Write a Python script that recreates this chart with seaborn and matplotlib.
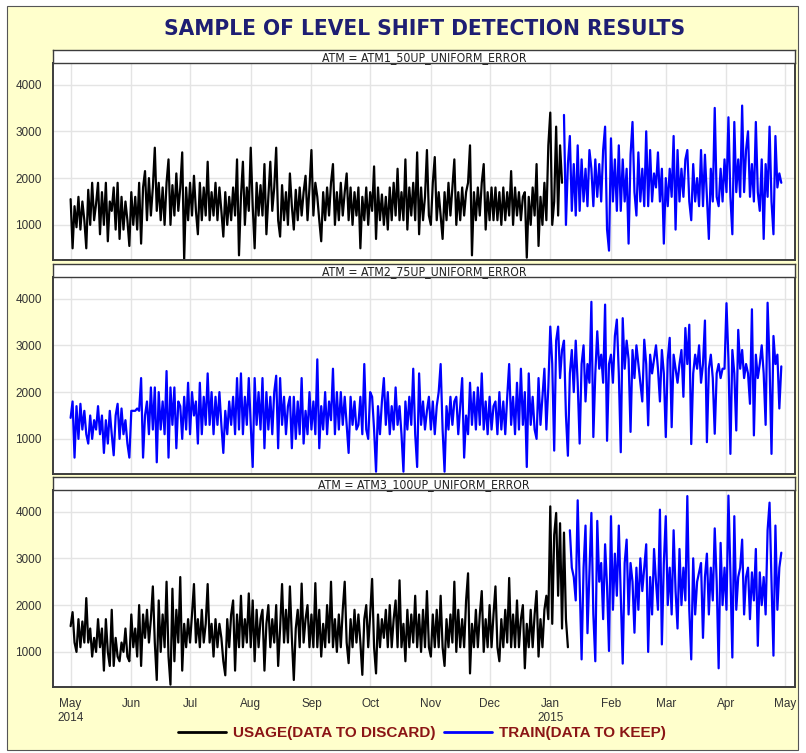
import matplotlib
matplotlib.use("Agg")
import numpy as np
import pandas as pd
import matplotlib.pyplot as plt
from matplotlib.lines import Line2D
from matplotlib.patches import Rectangle
from matplotlib import font_manager
from matplotlib.font_manager import FontProperties
import seaborn as sns

# ---------------- data ----------------
title_text = "SAMPLE OF LEVEL SHIFT DETECTION RESULTS"
panel_titles = ["ATM = ATM1_50UP_UNIFORM_ERROR",
                "ATM = ATM2_75UP_UNIFORM_ERROR",
                "ATM = ATM3_100UP_UNIFORM_ERROR"]
start_date = "2014-05-01"
legend_labels = ["USAGE(DATA TO DISCARD)", "TRAIN(DATA TO KEEP)"]
segment_names = ["USAGE", "TRAIN"]

atm1_values = [
    1550, 500, 1400, 950, 1600, 900, 1500,
    1100, 500, 1750, 1000, 1900, 1100, 1450,
    1900, 800, 1700, 1000, 1900, 650, 1500,
    1300, 1800, 900, 1900, 700, 1600, 900,
    1500, 1100, 550, 1700, 1000, 1600, 900,
    1900, 600, 1800, 2150, 1100, 2000, 1200,
    1800, 2650, 1300, 1900, 1100, 1800, 1000,
    1900, 2400, 1000, 1850, 1200, 2100, 1300,
    1800, 2550, 250, 1800, 1100, 1900, 1200,
    2050, 1300, 800, 1900, 1100, 1800, 1200,
    2350, 1100, 1700, 1200, 1900, 1100, 1800,
    1300, 750, 1700, 1000, 1600, 1100, 1800,
    1200, 2400, 350, 1600, 2350, 1000, 1800,
    1300, 2650, 1400, 500, 1900, 1200, 1850,
    1200, 2300, 800, 1600, 2350, 1300, 1800,
    2650, 1100, 750, 1850, 1100, 1700, 1000,
    2100, 1400, 900, 1750, 1100, 1800, 1200,
    1700, 2050, 1100, 1800, 2600, 1200, 1900,
    1600, 1100, 650, 1700, 1100, 1800, 1200,
    1900, 2300, 1000, 1700, 1100, 1900, 1200,
    1700, 2100, 1100, 1800, 1000, 1700, 1200,
    1800, 500, 1600, 1100, 1800, 1000, 1700,
    1300, 2250, 700, 1800, 1100, 1650, 1000,
    1600, 900, 1800, 1100, 1900, 1200, 2200,
    1100, 1700, 1100, 2400, 900, 1800, 1200,
    1900, 1100, 2550, 800, 1800, 1100, 1600,
    2600, 1200, 1000, 1900, 2450, 1100, 1700,
    1200, 700, 1700, 1100, 1900, 1200, 1800,
    2400, 1000, 1700, 1100, 1800, 1200, 1700,
    1900, 2700, 350, 1700, 1100, 1800, 1200,
    1900, 2300, 900, 1700, 1100, 1800, 1100,
    1800, 1100, 1700, 1000, 1800, 1100, 1700,
    1200, 2150, 1000, 1800, 1200, 1700, 1100,
    1600, 1700, 300, 1600, 1000, 1800, 1200,
    2300, 550, 1600, 1000, 1900, 1100, 2700,
    3400, 1000, 1500, 3100, 1200, 2700, 1900,
    3350, 1000, 2300, 2900, 1300, 2300, 1200,
    2700, 1300, 2400, 1500, 2200, 1400, 2600,
    2200, 1400, 2400, 1600, 2300, 1500, 2600,
    3100, 900, 450, 2850, 1500, 2400, 1300,
    2700, 1300, 2400, 1500, 2200, 600, 2500,
    3200, 1700, 1200, 2550, 1500, 2200, 1400,
    3000, 1400, 2600, 1500, 2100, 1800, 2550,
    1500, 2200, 600, 2000, 1400, 2200, 1600,
    2900, 900, 2600, 1500, 2200, 1600, 2400,
    2600, 1500, 1100, 2300, 1500, 2000, 1400,
    2600, 1400, 2500, 1600, 700, 2200, 1500,
    3500, 1600, 1400, 2200, 1500, 2400, 1700,
    3300, 1600, 800, 3200, 1700, 2400, 1600,
    3550, 1700, 2600, 3000, 1600, 2300, 1500,
    3200, 1700, 1300, 2400, 700, 2300, 1600,
    3100, 1500, 800, 2900, 1800, 2100, 1900,
]

atm2_values = [
    1450, 1800, 600, 1700, 1000, 1750, 1200,
    1600, 1100, 900, 1500, 1000, 1400, 1200,
    1700, 1100, 1500, 700, 1400, 900, 1600,
    1100, 650, 1500, 1750, 1000, 1650, 1100,
    1400, 900, 600, 1600, 1600, 1600, 1650,
    1600, 2300, 600, 1500, 1800, 1100, 2100,
    1200, 2100, 500, 2000, 1200, 1800, 1100,
    2450, 600, 2100, 1300, 2100, 800, 1800,
    1700, 1000, 1900, 1200, 2200, 1100, 2000,
    1500, 1800, 900, 2200, 1100, 1900, 1300,
    2400, 1300, 2000, 1100, 1900, 1300, 2000,
    1300, 700, 1600, 1100, 1800, 1300, 1900,
    1100, 2300, 1200, 2400, 1100, 1900, 1300,
    2300, 1300, 400, 2300, 1300, 2000, 1200,
    2300, 800, 2000, 1200, 1900, 1100, 2000,
    2350, 800, 2300, 1300, 1900, 1100, 1700,
    1900, 800, 1900, 1000, 1800, 1100, 2300,
    900, 1600, 1100, 2000, 1200, 1800, 1100,
    2700, 800, 1700, 1200, 2000, 1100, 1800,
    1400, 2500, 1100, 2000, 1200, 2000, 1300,
    1900, 1300, 700, 1900, 1300, 1800, 1200,
    1300, 1900, 1100, 2600, 1200, 1000, 2000,
    1900, 1200, 300, 1700, 1100, 1800, 2300,
    1300, 2000, 1100, 1700, 1200, 2100, 1300,
    1700, 1100, 300, 1800, 1200, 1900, 1300,
    2500, 1100, 400, 2400, 1300, 1800, 1200,
    1600, 1900, 1200, 1800, 1100, 1700, 2000,
    2600, 1200, 300, 1700, 1200, 1900, 1300,
    1800, 1900, 1100, 1700, 2300, 600, 1500,
    1100, 2200, 1300, 2000, 1200, 2100, 1300,
    2400, 1200, 1800, 1100, 1900, 1200, 1700,
    1800, 1100, 2000, 1200, 1800, 1100, 1900,
    2600, 1300, 1900, 1100, 2200, 1200, 2500,
    1300, 2000, 400, 2400, 1300, 1900, 1200,
    1000, 2300, 1300, 1900, 2500, 1200, 2100,
    3400, 2600, 750, 3100, 3400, 2300, 2900,
    3100, 1500, 640, 2400, 2900, 2000, 3100,
    2200, 900, 2600, 3000, 1800, 2600, 2200,
    3930, 1040, 2400, 3300, 2500, 2800, 2200,
    3870, 960, 2600, 2800, 2200, 3200, 3550,
    2400, 715, 3580, 2500, 3100, 2700, 1150,
    2900, 2300, 3000, 2600, 2200, 1800, 3120,
    2600, 1290, 2800, 2400, 2700, 3000, 2500,
    1800, 2900, 2400, 1040, 2700, 3160, 1250,
    2800, 2500, 2200, 2600, 2900, 1900, 3370,
    2600, 3440, 890, 2400, 2800, 2500, 3000,
    2200, 2600, 3530, 930, 2500, 2800, 2300,
    1110, 2400, 2600, 2300, 2500, 2500, 3900,
    2700, 680, 2900, 2400, 1180, 3330, 2500,
    2900, 2300, 2600, 2400, 1750, 3770, 1075,
    2800, 2300, 2600, 3000, 2400, 1300, 3910,
    2600, 680, 3200, 2600, 2800, 1650, 2550,
]

atm3_values = [
    1550, 1850, 1200, 1000, 1700, 1100, 1650,
    1200, 2150, 1200, 1500, 900, 1300, 1000,
    1700, 1100, 1500, 600, 1700, 1000, 700,
    1900, 700, 1300, 900, 800, 1200, 1000,
    1500, 900, 800, 1800, 1100, 1500, 900,
    2000, 700, 1800, 1300, 1900, 1200, 1700,
    2400, 1200, 400, 2100, 1000, 1800, 1100,
    2500, 900, 300, 2350, 800, 1900, 1200,
    2600, 600, 1600, 1100, 1700, 1200, 1800,
    2450, 1200, 1700, 1100, 1900, 1200, 1600,
    2450, 1200, 1600, 900, 1700, 1100, 1600,
    1300, 800, 500, 1700, 1100, 1800, 2100,
    600, 1800, 1100, 2200, 1100, 1700, 1200,
    2250, 1100, 2100, 800, 1900, 1100, 1700,
    1900, 600, 1600, 2000, 1100, 1700, 1200,
    2000, 700, 1500, 2450, 1200, 1900, 1200,
    2400, 1300, 400, 1500, 1900, 1100, 2460,
    1200, 1700, 2000, 1100, 1800, 1100, 2470,
    1100, 1900, 900, 1600, 1100, 2000, 1200,
    2500, 1100, 1700, 1000, 1800, 1100, 1900,
    2500, 1200, 760, 1700, 1100, 1900, 1200,
    1800, 1200, 510, 1700, 2000, 1100, 1800,
    2560, 1100, 540, 1800, 1100, 1700, 1300,
    1900, 1100, 2000, 1100, 1700, 2100, 1100,
    2530, 1100, 1600, 800, 1900, 1100, 1800,
    1200, 2200, 1100, 1800, 1000, 1900, 1100,
    2300, 1100, 900, 1800, 1100, 1900, 1100,
    2200, 1100, 700, 1700, 1100, 1800, 1200,
    2500, 1000, 1900, 1100, 1700, 1100, 2100,
    2680, 540, 1600, 1100, 1900, 1100, 1800,
    2300, 1000, 1700, 1100, 2000, 1100, 1800,
    2400, 1100, 800, 1700, 1100, 1900, 1200,
    2580, 1100, 1800, 1100, 2100, 1100, 1700,
    2000, 650, 1600, 1100, 1900, 1100, 1800,
    2300, 900, 1700, 1100, 1900, 2200, 1700,
    4110, 1600, 3500, 3970, 2200, 3750, 1500,
    3550, 1700, 1100, 3600, 2800, 2600, 2100,
    4240, 2500, 840, 2800, 3700, 1400, 2700,
    3970, 1800, 800, 3800, 2500, 2900, 1700,
    3300, 2400, 1020, 3900, 1900, 3100, 2200,
    3700, 2200, 750, 2900, 3400, 1800, 2900,
    2500, 1410, 2800, 1900, 3000, 2300, 2800,
    3300, 1000, 2600, 1800, 3200, 2500, 1900,
    4040, 1160, 2900, 3900, 2000, 2800, 1800,
    3600, 2300, 1500, 3200, 2000, 2800, 2100,
    4330, 1900, 840, 3000, 1800, 2500, 2700,
    2900, 1300, 2600, 3100, 1800, 2800, 2100,
    3640, 2500, 650, 3330, 2000, 2800, 1900,
    4340, 2700, 880, 3900, 1900, 2600, 2800,
    3400, 1800, 2600, 2800, 1700, 2700, 2100,
    3200, 1130, 2700, 2000, 2600, 1800, 3600,
    4190, 2500, 920, 3700, 1900, 2800, 3120,
]

# index of the first TRAIN day in each panel
train_start = [252, 0, 255]

month_ticks = ["2014-05-01", "2014-06-01", "2014-07-01", "2014-08-01",
               "2014-09-01", "2014-10-01", "2014-11-01", "2014-12-01",
               "2015-01-01", "2015-02-01", "2015-03-01", "2015-04-01",
               "2015-05-01"]
month_labels = ["May\n2014", "Jun", "Jul", "Aug", "Sep", "Oct", "Nov", "Dec",
                "Jan\n2015", "Feb", "Mar", "Apr", "May"]
y_ticks = [1000, 2000, 3000, 4000]

# ---------------- frame ----------------
rows = []
for p, vals in enumerate([atm1_values, atm2_values, atm3_values]):
    dates = pd.date_range(start_date, periods=len(vals), freq="D")
    for i, (d, v) in enumerate(zip(dates, vals)):
        rows.append({"panel": p, "date": d, "value": v,
                     "segment": segment_names[0] if i < train_start[p] else segment_names[1]})
df = pd.DataFrame(rows)

# ---------------- fonts ----------------
sns.set_style("white")
base_family = ["Liberation Sans", "DejaVu Sans"]
plt.rcParams["font.family"] = base_family


def find_condensed(bold):
    want_w = 700 if bold else 400
    cands = []
    for f in font_manager.fontManager.ttflist:
        nm = f.name.lower()
        st = str(f.stretch).lower()
        is_narrow = ("narrow" in nm or "condensed" in nm or "condensed" in st
                     or "narrow" in st or (isinstance(f.stretch, int) and f.stretch < 500))
        if not is_narrow:
            continue
        try:
            w = int(f.weight)
        except Exception:
            w = 700 if "bold" in str(f.weight).lower() else 400
        if "italic" in str(f.style).lower() or "oblique" in str(f.style).lower():
            continue
        score = abs(w - want_w)
        pref = 0 if "liberation" in nm else (1 if "dejavu" in nm else 2)
        cands.append((pref, score, f.fname))
    if not cands:
        return None
    cands.sort()
    return cands[0][2]


cond_bold = find_condensed(True)
cond_reg = find_condensed(False)


def fprops(bold, size, condensed=True):
    path = cond_bold if bold else cond_reg
    if condensed and path:
        return FontProperties(fname=path, size=size)
    return FontProperties(family=base_family, weight="bold" if bold else "normal", size=size)


W, H = 806, 753
fig = plt.figure(figsize=(W / 100, H / 100), dpi=100)
fig.patch.set_facecolor("white")
fig.add_artist(Rectangle((7 / W, 3 / H), 791 / W, 744 / H, transform=fig.transFigure,
                         facecolor="#FFFFCC", edgecolor="#555555", lw=0.8, zorder=0))

palette = {segment_names[0]: "#000000", segment_names[1]: "#0000FF"}
left, right = 53, 795
plot_tops = [63, 277, 490]
plot_h = 197
strip_h = 13
xlim = (pd.Timestamp("2014-04-22"), pd.Timestamp("2015-05-06"))
tick_dates = [pd.Timestamp(t) for t in month_ticks]


def fx(px):
    return px / W


def fy(py):
    return 1 - py / H


strip_texts = []
for p in range(3):
    top = plot_tops[p]
    ax = fig.add_axes([fx(left), fy(top + plot_h), (right - left) / W, plot_h / H])
    ax.set_facecolor("white")
    sub = df[df.panel == p]
    sns.lineplot(data=sub, x="date", y="value", hue="segment", palette=palette,
                 estimator=None, sort=False, lw=1.6, legend=False, ax=ax)
    ax.set_xlim(*xlim)
    ax.set_ylim(250, 4460)
    ax.set_yticks(y_ticks)
    ax.set_yticklabels([str(t) for t in y_ticks])
    ax.set_xticks(tick_dates)
    if p == 2:
        ax.set_xticklabels(month_labels)
    else:
        ax.set_xticklabels([])
    ax.set_xlabel("")
    ax.set_ylabel("")
    ax.grid(True, color="#E4E4E4", lw=1.0)
    ax.set_axisbelow(True)
    ax.tick_params(length=0, labelsize=8.5, labelcolor="#333333", pad=8)
    for s in ax.spines.values():
        s.set_visible(True)
        s.set_color("#3C3C3C")
        s.set_linewidth(1.4)
    # strip header
    sax = fig.add_axes([fx(left), fy(top), (right - left) / W, strip_h / H])
    sax.set_facecolor("white")
    sax.set_xticks([])
    sax.set_yticks([])
    for s in sax.spines.values():
        s.set_color("#3C3C3C")
        s.set_linewidth(1.0)
    t = sax.text(0.5, 0.45, panel_titles[p], ha="center", va="center",
                 fontproperties=fprops(False, 8.0), color="#222222",
                 transform=sax.transAxes)
    strip_texts.append(t)

title = fig.text(425 / W, fy(29), title_text, ha="center", va="center",
                 fontproperties=fprops(True, 18), color="#1E1E73")

handles = [Line2D([], [], color=palette[s], lw=2.0) for s in segment_names]
leg = fig.legend(handles, legend_labels, loc="center", bbox_to_anchor=(fx(422), fy(733)),
                 ncol=2, frameon=False, handlelength=3.1,
                 handletextpad=0.45, columnspacing=0.6,
                 prop={"weight": "bold", "size": 11, "family": base_family})
for txt in leg.get_texts():
    txt.set_color("#8B1515")

# fit text widths to reference
fig.canvas.draw()
r = fig.canvas.get_renderer()
wt = title.get_window_extent(r).width
title.set_fontsize(title.get_fontsize() * 520 / wt)
ws = strip_texts[0].get_window_extent(r).width
scale = 206 / ws
for t in strip_texts:
    t.set_fontsize(t.get_fontsize() * scale)

fig.savefig("out.png", dpi=100, facecolor=fig.get_facecolor())
